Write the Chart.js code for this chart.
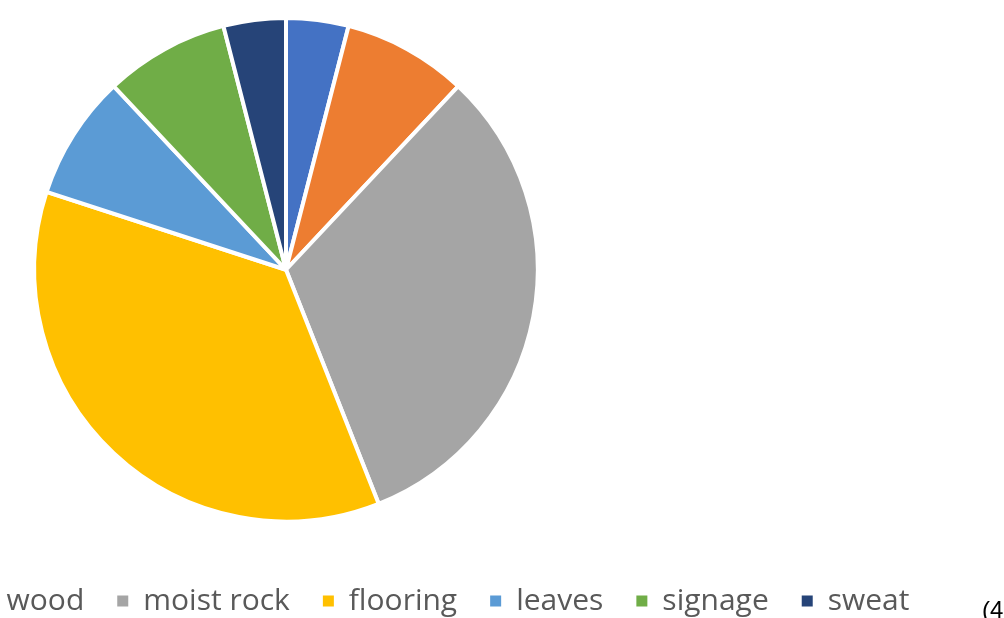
<!DOCTYPE html>
<html>
<head>
<meta charset="utf-8">
<script src="https://cdn.jsdelivr.net/npm/chart.js@4"></script>
<style>
  html, body { margin: 0; padding: 0; background: #fff; overflow: hidden; width: 1004px; height: 618px; }
  #wrap { position: absolute; left: -191px; top: 0; width: 1300px; height: 626px; }
  #eq { position: absolute; left: 982px; top: 596px; font: 24px "Liberation Sans", sans-serif; color: #000; line-height: 28px; }
</style>
</head>
<body>
<div id="wrap"><canvas id="pieChart"></canvas></div>
<div id="eq">(4</div>
<script>
// nguon du lieu (doc tu hinh)
const labels = ["metal", "wood", "moist rock", "flooring", "leaves", "signage", "sweat"];
const counts = [1, 2, 8, 9, 2, 2, 1];
const colors = ["#4472C4", "#ED7D31", "#A5A5A5", "#FFC000", "#5B9BD5", "#70AD47", "#264478"];

const ctx = document.getElementById("pieChart").getContext("2d");
new Chart(ctx, {
  type: "pie",
  data: {
    labels: labels,
    datasets: [
      {
        data: counts,
        backgroundColor: colors,
        borderColor: "#ffffff",
        borderWidth: 4,
        hoverOffset: 0,
      },
    ],
  },
  options: {
    responsive: true,
    maintainAspectRatio: false,
    animation: false,
    layout: { padding: { top: 16 } },
    plugins: {
      tooltip: { enabled: false },
      // title rong ben phai de day hinh tron sang trai
      title: {
        display: true,
        position: "right",
        text: " ",
        font: { size: 10, lineHeight: 1 },
        padding: { top: 336, bottom: 0 },
      },
      legend: {
        position: "bottom",
        align: "start",
        title: {
          display: true,
          text: " ",
          font: { size: 10, lineHeight: 1 },
          padding: { top: 19.5, bottom: 0 },
        },
        labels: {
          boxWidth: 11,
          boxHeight: 11,
          padding: 33,
          color: "#595959",
          font: { family: "'Open Sans'", size: 30 },
          generateLabels: (chart) =>
            Chart.overrides.pie.plugins.legend.labels
              .generateLabels(chart)
              .map((l) => ({ ...l, lineWidth: 0 })),
        },
      },
    },
  },
});
</script>
</body>
</html>
